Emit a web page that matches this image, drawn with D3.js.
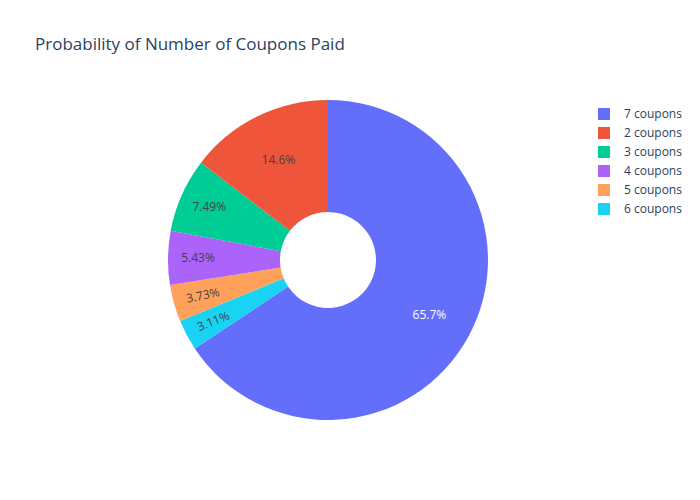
<!DOCTYPE html>
<html><head><meta charset="utf-8">
<script src="https://cdn.jsdelivr.net/npm/d3@7"></script>
<style>body{margin:0;background:#fff}text{font-family:"Open Sans",sans-serif}</style>
</head><body><svg id="c" width="700" height="500"></svg>
<script>
const categories = ["7 coupons","6 coupons","5 coupons","4 coupons","3 coupons","2 coupons"];
const values = [65.7,3.11,3.73,5.43,7.49,14.6];
const labels = ["65.7%","3.11%","3.73%","5.43%","7.49%","14.6%"];
const legendOrder = ["7 coupons","2 coupons","3 coupons","4 coupons","5 coupons","6 coupons"];
const colors = {"7 coupons":"#636efa","2 coupons":"#EF553B","3 coupons":"#00cc96","4 coupons":"#ab63fa","5 coupons":"#FFA15A","6 coupons":"#19d3f3"};
const textColors = {"7 coupons":"#fff"};
const rot = {"6 coupons":-22,"5 coupons":-12};

const svg = d3.select("#c");
svg.append("text").attr("x",35).attr("y",50).attr("font-size",17).attr("fill","#2a3f5f").text("Probability of Number of Coupons Paid");

const cx=328, cy=260, R=160, r=48;
const data = categories.map((c,i)=>({c,v:values[i],l:labels[i]}));
const pie = d3.pie().value(d=>d.v).sort(null);
const arc = d3.arc().innerRadius(r).outerRadius(R);
const g = svg.append("g").attr("transform",`translate(${cx},${cy})`);
const arcs = pie(data);
g.selectAll("path").data(arcs).join("path").attr("d",arc)
 .attr("fill",d=>colors[d.data.c]).attr("stroke","#fff").attr("stroke-width",0);
const lab = d3.arc().innerRadius(R*0.62).outerRadius(R*0.62);
g.selectAll("text.l").data(arcs).join("text")
 .attr("transform",d=>{const p=lab.centroid(d);let pr=p;if(d.data.c==="7 coupons"){pr=d3.arc().innerRadius(115).outerRadius(115).centroid(d);} if(d.data.c==="2 coupons"){pr=d3.arc().innerRadius(112).outerRadius(112).centroid(d);} if(d.data.c==="6 coupons"||d.data.c==="5 coupons"){pr=d3.arc().innerRadius(130).outerRadius(130).centroid(d);} if(d.data.c==="4 coupons"||d.data.c==="3 coupons"){pr=d3.arc().innerRadius(130).outerRadius(130).centroid(d);} return `translate(${pr[0]},${pr[1]}) rotate(${rot[d.data.c]||0})`;})
 .attr("text-anchor","middle").attr("dy","0.35em").attr("font-size",12)
 .attr("fill",d=>textColors[d.data.c]||"#444").text(d=>d.data.l);

const lg = svg.append("g");
legendOrder.forEach((c,i)=>{
  const y=114+i*19;
  lg.append("rect").attr("x",598).attr("y",y-6).attr("width",12).attr("height",12).attr("fill",colors[c]);
  lg.append("text").attr("x",624).attr("y",y).attr("dy","0.35em").attr("font-size",12).attr("fill","#2a3f5f").text(c);
});
</script></body></html>
